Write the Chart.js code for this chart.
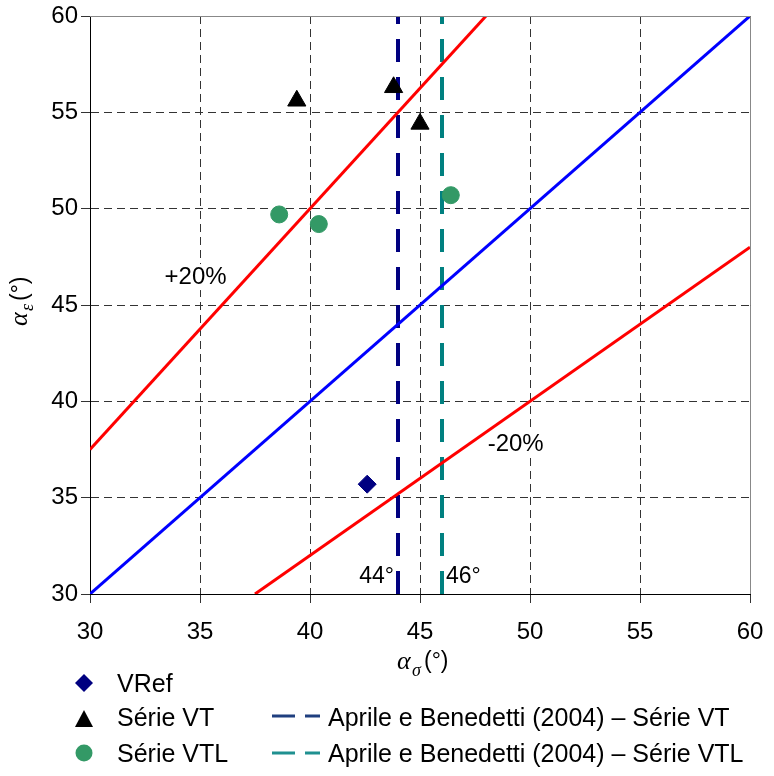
<!DOCTYPE html>
<html>
<head>
<meta charset="utf-8">
<script src="https://cdn.jsdelivr.net/npm/chart.js@4.4.1/dist/chart.umd.min.js"></script>
<style>
  html, body { margin: 0; padding: 0; background: #fff; }
  #wrap { width: 774px; height: 776px; }
</style>
</head>
<body>
<div id="wrap"><canvas id="chScatter" width="774" height="776"></canvas></div>
<script>
// values
const vRef = [{x: 42.6, y: 35.7}];
const serieVT = [{x: 39.4, y: 55.6}, {x: 43.8, y: 56.3}, {x: 45.0, y: 54.4}];
const serieVTL = [{x: 38.6, y: 49.7}, {x: 40.4, y: 49.2}, {x: 46.4, y: 50.7}];
const lineEqual = [{x: 30, y: 30}, {x: 60, y: 60}];
const linePlus20 = [{x: 30, y: 37.5}, {x: 48, y: 60}];
const lineMinus20 = [{x: 37.5, y: 30}, {x: 60, y: 48}];
const aprileVT = [{x: 44, y: 30}, {x: 44, y: 60}];
const aprileVTL = [{x: 46, y: 30}, {x: 46, y: 60}];
const axisMin = 30, axisMax = 60, axisStep = 5;

const FONT = 'Arial, "Liberation Sans", sans-serif';
const SERIF = '"Liberation Serif", "Times New Roman", serif';

// +20% / -20% labels go under the lines, over the grid
const bandLabels = {
    id: 'bandLabels',
    beforeDatasetsDraw(chart) {
        const ctx = chart.ctx;
        const xs = chart.scales.x, ys = chart.scales.y;
        ctx.save();
        ctx.font = '24px ' + FONT;
        ctx.textBaseline = 'middle';
        ctx.textAlign = 'center';
        [['+20%', 34.8, 46.45], ['-20%', 49.35, 37.75]].forEach(function (a) {
            const px = xs.getPixelForValue(a[1]), py = ys.getPixelForValue(a[2]);
            const w = ctx.measureText(a[0]).width;
            ctx.fillStyle = '#fff';
            ctx.fillRect(px - w / 2 - 2, py - 13, w + 4, 26);
            ctx.fillStyle = '#000';
            ctx.fillText(a[0], px, py);
        });
        ctx.restore();
    }
};

// axis titles, small labels and the legend are drawn by hand
const extras = {
    id: 'extras',
    afterDraw(chart) {
        const ctx = chart.ctx;
        const xs = chart.scales.x;
        ctx.save();

        // 44° / 46°
        ctx.font = '23px ' + FONT;
        ctx.textBaseline = 'middle';
        ctx.fillStyle = '#000';
        ctx.textAlign = 'right';
        ctx.fillText('44°', xs.getPixelForValue(44) - 4, 577);
        ctx.textAlign = 'left';
        ctx.fillText('46°', xs.getPixelForValue(46) + 4, 577);

        // x title: alpha_sigma (°)
        ctx.textAlign = 'left';
        ctx.textBaseline = 'alphabetic';
        ctx.font = 'italic 26px ' + SERIF;
        ctx.fillText('α', 397, 669);
        ctx.font = 'italic 18px ' + SERIF;
        ctx.fillText('σ', 412, 676);
        ctx.font = '23px ' + FONT;
        ctx.fillText('(°)', 424, 668);

        // y title rotated
        ctx.save();
        ctx.translate(27, 306);
        ctx.rotate(-Math.PI / 2);
        ctx.font = 'italic 26px ' + SERIF;
        ctx.fillText('α', -20, 0);
        ctx.font = 'italic 18px ' + SERIF;
        ctx.fillText('ε', -5, 6);
        ctx.font = '23px ' + FONT;
        ctx.fillText('(°)', 5, 0);
        ctx.restore();

        // legend
        ctx.font = '25px ' + FONT;
        ctx.textBaseline = 'middle';
        ctx.textAlign = 'left';
        // diamond
        ctx.fillStyle = '#000080';
        ctx.beginPath();
        ctx.moveTo(84, 674); ctx.lineTo(93, 683); ctx.lineTo(84, 692); ctx.lineTo(75, 683);
        ctx.closePath(); ctx.fill();
        // triangle
        ctx.fillStyle = '#000';
        ctx.beginPath();
        ctx.moveTo(84, 710); ctx.lineTo(93, 727); ctx.lineTo(75, 727);
        ctx.closePath(); ctx.fill();
        // circle
        ctx.fillStyle = '#339966';
        ctx.beginPath();
        ctx.arc(84, 753, 8.5, 0, Math.PI * 2); ctx.fill();

        ctx.fillStyle = '#000';
        ctx.fillText('VRef', 117, 685);
        ctx.fillText('Série VT', 117, 719);
        ctx.fillText('Série VTL', 117, 755);

        ctx.lineWidth = 3;
        ctx.strokeStyle = '#1f3f7f';
        ctx.beginPath(); ctx.moveTo(272, 716); ctx.lineTo(295, 716); ctx.moveTo(305, 716); ctx.lineTo(320, 716); ctx.stroke();
        ctx.strokeStyle = '#1f9090';
        ctx.beginPath(); ctx.moveTo(272, 753); ctx.lineTo(295, 753); ctx.moveTo(305, 753); ctx.lineTo(320, 753); ctx.stroke();
        ctx.fillStyle = '#000';
        ctx.fillText('Aprile e Benedetti (2004) – Série VT', 328, 719);
        ctx.fillText('Aprile e Benedetti (2004) – Série VTL', 328, 755);

        // top and right frame
        ctx.strokeStyle = '#888';
        ctx.lineWidth = 1;
        ctx.beginPath();
        ctx.moveTo(chart.chartArea.left, chart.chartArea.top + 0.5);
        ctx.lineTo(chart.chartArea.right + 0.5, chart.chartArea.top + 0.5);
        ctx.lineTo(chart.chartArea.right + 0.5, chart.chartArea.bottom);
        ctx.stroke();

        ctx.restore();
    }
};

function lineSet(label, data, color, width, dash) {
    return {
        type: 'line', label: label, data: data, borderColor: color,
        borderWidth: width, borderDash: dash || [], pointRadius: 0,
        fill: false, tension: 0, order: 2
    };
}

var chScatter = document.getElementById('chScatter');
new Chart(chScatter, {
    type: 'scatter',
    data: {
        datasets: [
            lineSet('y = x', lineEqual, '#0000ff', 3),
            lineSet('+20%', linePlus20, '#ff0000', 3),
            lineSet('-20%', lineMinus20, '#ff0000', 3),
            lineSet('Aprile e Benedetti (2004) – Série VT', aprileVT, '#000080', 4, [23, 15]),
            lineSet('Aprile e Benedetti (2004) – Série VTL', aprileVTL, '#008080', 4, [23, 15]),
            {label: 'VRef', data: vRef, pointStyle: 'rectRot', pointRadius: 9,
             backgroundColor: '#000080', borderColor: '#000080', order: 1},
            {label: 'Série VT', data: serieVT, pointStyle: 'triangle', pointRadius: 10.5,
             backgroundColor: '#000', borderColor: '#000', order: 1},
            {label: 'Série VTL', data: serieVTL, pointStyle: 'circle', pointRadius: 8.5,
             backgroundColor: '#339966', borderColor: '#339966', order: 1}
        ]
    },
    options: {
        responsive: false,
        animation: false,
        layout: {padding: {top: 16, right: 24, left: 0, bottom: 0}},
        plugins: {legend: {display: false}, tooltip: {enabled: false}},
        scales: {
            x: {
                type: 'linear', min: axisMin, max: axisMax,
                ticks: {stepSize: axisStep, color: '#000', font: {size: 24, family: FONT}, padding: 15},
                grid: {color: '#333', tickColor: '#333', tickLength: 9, lineWidth: 1},
                border: {display: true, color: '#000', width: 1, dash: [8, 5]},
                afterFit: function (s) { s.height = 182; s.paddingLeft = 0; s.paddingRight = 0; }
            },
            y: {
                type: 'linear', min: axisMin, max: axisMax,
                ticks: {stepSize: axisStep, color: '#000', font: {size: 24, family: FONT}, padding: 3},
                grid: {color: '#333', tickColor: '#333', tickLength: 9, lineWidth: 1},
                border: {display: true, color: '#000', width: 1, dash: [8, 5]},
                afterFit: function (s) { s.width = 90; s.paddingTop = 0; s.paddingBottom = 0; }
            }
        }
    },
    plugins: [bandLabels, extras]
});
</script>
</body>
</html>
